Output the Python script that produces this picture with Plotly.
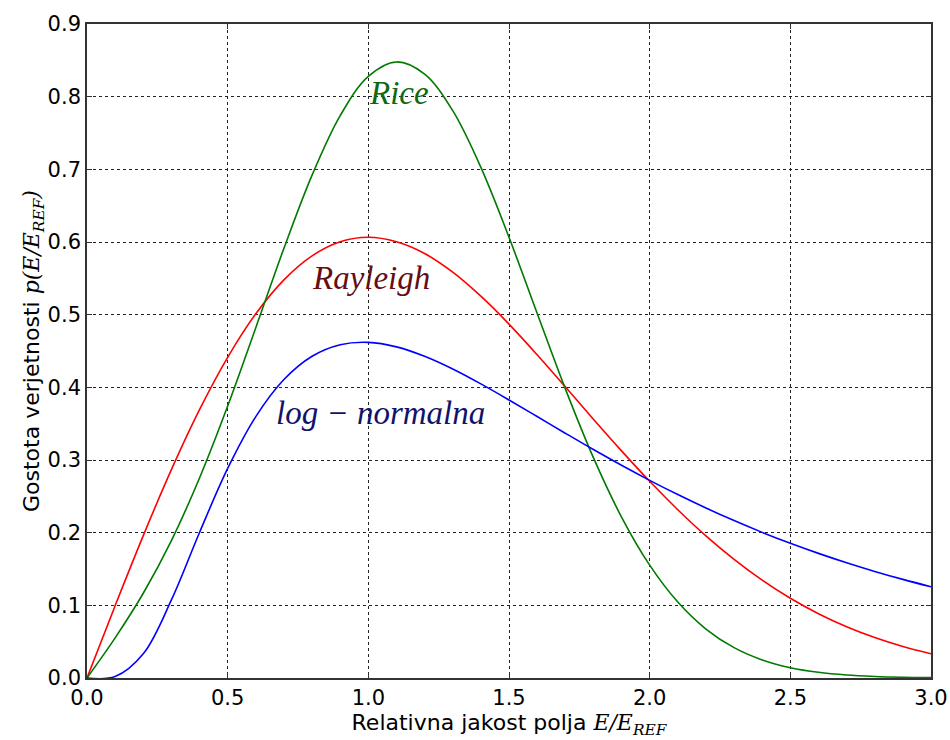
import plotly.graph_objects as go

# Relative field strength E/E_REF
x_vals = [0.0, 0.1, 0.2, 0.3, 0.4, 0.5, 0.6, 0.7, 0.8, 0.9,
          1.0, 1.1, 1.2, 1.3, 1.4, 1.5, 1.6, 1.7, 1.8, 1.9,
          2.0, 2.1, 2.2, 2.3, 2.4, 2.5, 2.6, 2.7, 2.8, 2.9, 3.0]

rayleigh = [0.0, 0.0995, 0.1960, 0.2867, 0.3692, 0.4412, 0.5012, 0.5479, 0.5809, 0.6003,
            0.6065, 0.6003, 0.5842, 0.5585, 0.5254, 0.4870, 0.4448, 0.4007, 0.3562, 0.3126,
            0.2707, 0.2316, 0.1956, 0.1633, 0.1347, 0.1098, 0.0885, 0.0705, 0.0556, 0.0433, 0.0333]

rice = [0.0, 0.0552, 0.1166, 0.1891, 0.2752, 0.3742, 0.4821, 0.5913, 0.6920, 0.7740,
        0.8280, 0.8478, 0.8311, 0.7807, 0.7027, 0.6065, 0.5019, 0.3982, 0.3032, 0.2215,
        0.1553, 0.1045, 0.0674, 0.0418, 0.0249, 0.0142, 0.0078, 0.0041, 0.0021, 0.0010, 0.0005]

lognormal = [0.0, 0.0020, 0.0333, 0.1074, 0.2003, 0.2884, 0.3597, 0.4107, 0.4427, 0.4586,
             0.4619, 0.4557, 0.4427, 0.4252, 0.4047, 0.3826, 0.3598, 0.3369, 0.3144, 0.2927,
             0.2720, 0.2524, 0.2339, 0.2166, 0.2004, 0.1854, 0.1715, 0.1586, 0.1467, 0.1357, 0.1255]

x_ticks = [0.0, 0.5, 1.0, 1.5, 2.0, 2.5, 3.0]
y_ticks = [0.0, 0.1, 0.2, 0.3, 0.4, 0.5, 0.6, 0.7, 0.8, 0.9]

labels = ["<i>Rice</i>", "<i>Rayleigh</i>", "<i>log \u2212 normalna</i>"]
label_x = [1.11, 1.01, 1.045]
label_y = [0.805, 0.551, 0.365]
label_colors = ["#0f6a0f", "#650d12", "#12126a"]

fig = go.Figure()
for ys, col in [(rayleigh, "#ff0000"), (rice, "#007a00"), (lognormal, "#0000ff")]:
    fig.add_trace(go.Scatter(x=x_vals, y=ys, mode="lines",
                             line=dict(color=col, width=1.6, shape="spline", smoothing=1.0),
                             showlegend=False, hoverinfo="skip"))

for t, lx, ly, c in zip(labels, label_x, label_y, label_colors):
    fig.add_annotation(x=lx, y=ly, text=t, showarrow=False,
                       font=dict(family="Liberation Serif", size=33, color=c),
                       xanchor="center", yanchor="middle")

math_font = "font-family:'DejaVu Serif',serif;font-style:italic;font-size:22px"
xtitle = ("Relativna jakost polja <span style=\"%s\">E/E<sub>REF</sub></span>" % math_font)
ytitle = ("Gostota verjetnosti <span style=\"%s\">p(E/E<sub>REF</sub>)</span>" % math_font)

axis_common = dict(showline=True, linecolor="#333333", linewidth=1.6, mirror="allticks",
                   ticks="inside", ticklen=5, tickcolor="#333333", tickwidth=1,
                   showgrid=True, gridcolor="#222222", griddash="dot", gridwidth=1,
                   zeroline=False, automargin=False,
                   tickfont=dict(family="DejaVu Sans", size=21, color="#000000"))

fig.update_xaxes(range=[0, 3.0], tickvals=x_ticks,
                 ticktext=["%.1f" % v for v in x_ticks],
                 title=dict(text=xtitle, font=dict(family="DejaVu Sans", size=22, color="#000"),
                            standoff=6),
                 **axis_common)
fig.update_yaxes(range=[0, 0.9], tickvals=y_ticks,
                 ticktext=["%.1f" % v for v in y_ticks],
                 title=dict(text=ytitle, font=dict(family="DejaVu Sans", size=22, color="#000"),
                            standoff=0),
                 **axis_common)

fig.update_layout(width=950, height=740,
                  margin=dict(l=87, r=19, t=24, b=62),
                  paper_bgcolor="white", plot_bgcolor="white")

fig.write_html("out.html", config={"displayModeBar": False},
               post_script="document.body.style.margin='0';document.body.style.overflow='hidden';")
